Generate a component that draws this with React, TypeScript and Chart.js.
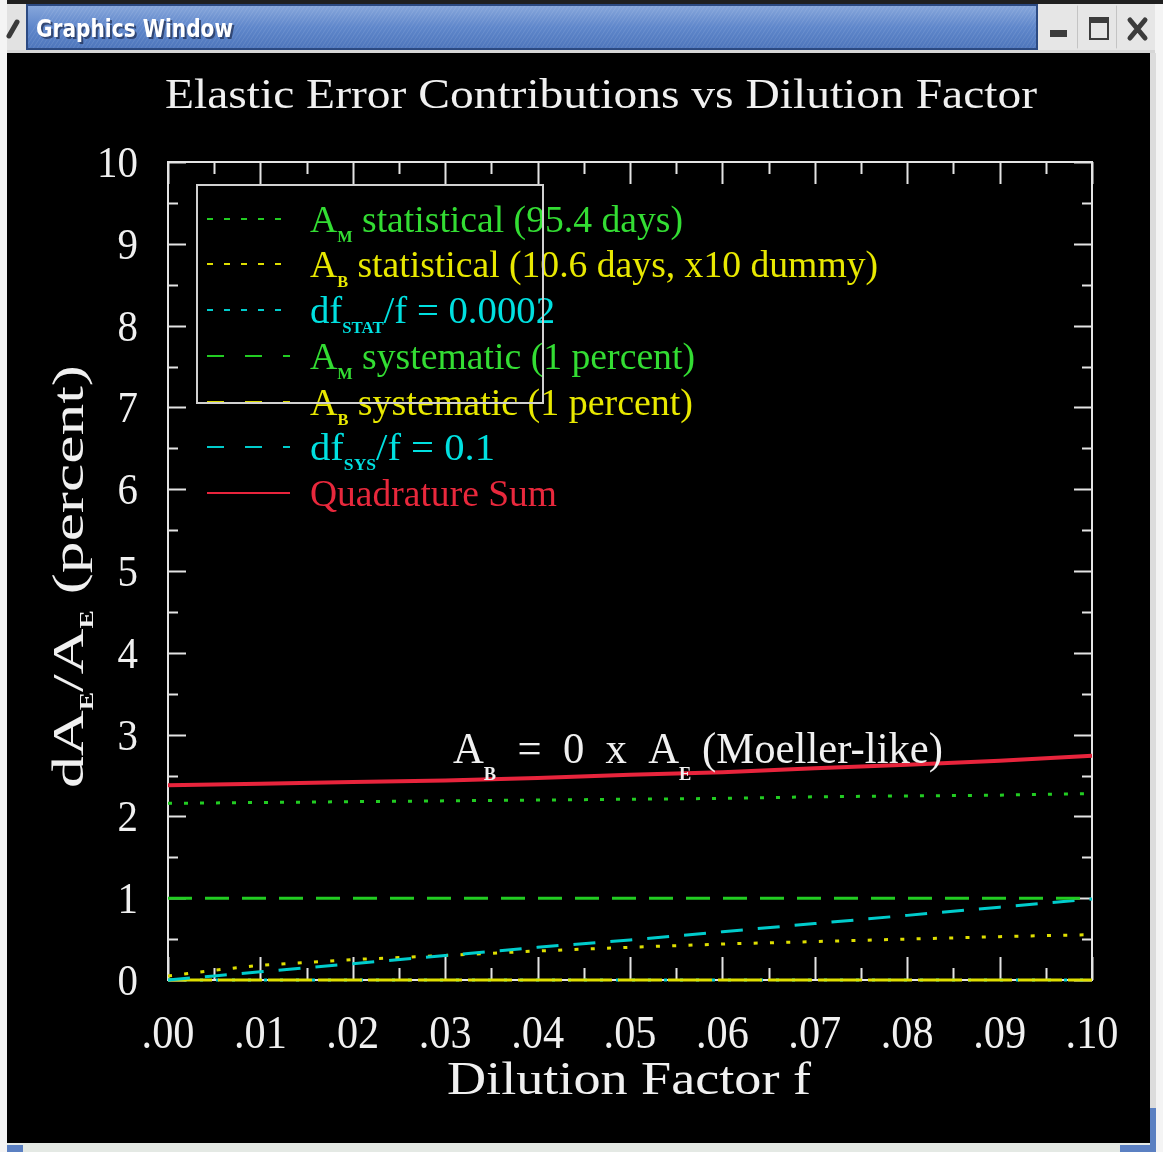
import React, { useEffect, useRef } from "react";
import { Chart, registerables } from "chart.js";

Chart.register(...registerables);

const W = 1163;
const H = 1152;

// ---- data ----
const dilution = [0, 0.005, 0.01, 0.02, 0.03, 0.04, 0.05, 0.06, 0.07, 0.08, 0.09, 0.1];
const amStatistical = [2.16, 2.165, 2.17, 2.18, 2.19, 2.2, 2.21, 2.22, 2.24, 2.25, 2.26, 2.28];
const abStatistical = [0.05, 0.12, 0.18, 0.25, 0.3, 0.355, 0.4, 0.44, 0.47, 0.5, 0.53, 0.555];
const dfStatistical = [0, 0, 0, 0, 0, 0, 0, 0, 0, 0, 0, 0];
const amSystematic = [1, 1, 1, 1, 1, 1, 1, 1, 1, 1, 1, 1];
const abSystematic = [0, 0, 0, 0, 0, 0, 0, 0, 0, 0, 0, 0];
const dfSystematic = [0, 0.05, 0.1, 0.2, 0.3, 0.4, 0.49, 0.59, 0.69, 0.79, 0.89, 0.99];
const quadratureSum = [2.38, 2.39, 2.4, 2.42, 2.44, 2.47, 2.51, 2.54, 2.59, 2.63, 2.68, 2.74];

const xTickValues = [0, 0.01, 0.02, 0.03, 0.04, 0.05, 0.06, 0.07, 0.08, 0.09, 0.1];
const xTickLabels = [".00", ".01", ".02", ".03", ".04", ".05", ".06", ".07", ".08", ".09", ".10"];
const yTickValues = [0, 1, 2, 3, 4, 5, 6, 7, 8, 9, 10];
const yTickLabels = ["0", "1", "2", "3", "4", "5", "6", "7", "8", "9", "10"];

const chartTitle = "Elastic Error Contributions vs Dilution Factor";
const xAxisTitle = "Dilution Factor f";
const windowTitle = "Graphics Window";

// legend text: [main, subscript, rest]
const legendMain = ["A", "A", "df", "A", "A", "df", "Quadrature Sum"];
const legendSub = ["M", "B", "STAT", "M", "B", "SYS", ""];
const legendRest = [
  " statistical (95.4 days)",
  " statistical (10.6 days, x10 dummy)",
  "/f = 0.0002",
  " systematic (1 percent)",
  " systematic (1 percent)",
  "/f = 0.1",
  "",
];

// ---- styles ----
const GREEN = "#22cc22";
const YELLOW = "#dede00";
const CYAN = "#00cccc";
const RED = "#e8243c";
const GREEN_T = "#33dd33";
const YELLOW_T = "#e8e800";
const CYAN_T = "#00e0e0";
const RED_T = "#e8283c";
const WHITE = "#f0f0f0";
const SERIF = '"Liberation Serif", "DejaVu Serif", serif';

const legendColors = [GREEN, YELLOW, CYAN, GREEN, YELLOW, CYAN, RED];
const legendTextColors = [GREEN_T, YELLOW_T, CYAN_T, GREEN_T, YELLOW_T, CYAN_T, RED_T];
const legendDash = [[6, 11], [6, 11], [6, 11], [17, 21], [17, 21], [17, 21], []];
const legendEnds = [683, 878, 555, 695, 693, 495, 557];
const legendBaselines = [232, 277, 323, 369, 415, 460, 506];

type Seg = { t: string; font: string; dy: number };

function fitSegs(ctx: CanvasRenderingContext2D, segs: Seg[], x: number, y: number, width: number) {
  let total = 0;
  const ws: number[] = [];
  for (const s of segs) {
    ctx.font = s.font;
    const w = ctx.measureText(s.t).width;
    ws.push(w);
    total += w;
  }
  const sc = width / total;
  ctx.save();
  ctx.translate(x, y);
  ctx.scale(sc, 1);
  let cx = 0;
  segs.forEach((s, i) => {
    ctx.font = s.font;
    ctx.fillText(s.t, cx, s.dy);
    cx += ws[i];
  });
  ctx.restore();
}

function drawChrome(ctx: CanvasRenderingContext2D) {
  ctx.save();
  ctx.fillStyle = "#f4f4f4";
  ctx.fillRect(0, 0, W, H);
  // top dark line
  ctx.fillStyle = "#202020";
  ctx.fillRect(7, 0, W - 7, 4);
  // left menu button
  ctx.fillStyle = "#e2e2e2";
  ctx.fillRect(7, 4, 19, 46);
  ctx.strokeStyle = "#3a3a3a";
  ctx.lineWidth = 5;
  ctx.lineCap = "round";
  ctx.beginPath();
  ctx.moveTo(9, 36);
  ctx.lineTo(17, 22);
  ctx.stroke();
  // blue title bar
  const g = ctx.createLinearGradient(0, 4, 0, 50);
  g.addColorStop(0, "#8aa9dc");
  g.addColorStop(0.5, "#5f87cb");
  g.addColorStop(1, "#4d75bb");
  ctx.fillStyle = g;
  ctx.fillRect(26, 4, 1012, 46);
  ctx.save();
  ctx.beginPath();
  ctx.rect(26, 4, 1012, 46);
  ctx.clip();
  ctx.strokeStyle = "rgba(255,255,255,0.10)";
  ctx.lineWidth = 1;
  for (let x = 20; x < 1100; x += 4) {
    ctx.beginPath();
    ctx.moveTo(x, 50);
    ctx.lineTo(x + 30, 4);
    ctx.stroke();
  }
  ctx.restore();
  ctx.strokeStyle = "#2c4a82";
  ctx.lineWidth = 2;
  ctx.strokeRect(27, 5, 1010, 44);
  // title text
  ctx.fillStyle = "rgba(20,30,60,0.6)";
  ctx.textBaseline = "alphabetic";
  fitSegs(ctx, [{ t: windowTitle, font: 'bold 25px "DejaVu Sans", sans-serif', dy: 0 }], 38, 39, 197);
  ctx.fillStyle = "#ffffff";
  fitSegs(ctx, [{ t: windowTitle, font: 'bold 25px "DejaVu Sans", sans-serif', dy: 0 }], 36, 37, 197);
  // buttons
  ctx.fillStyle = "#e6e6e6";
  ctx.fillRect(1038, 4, 117, 46);
  ctx.strokeStyle = "#c4c4c4";
  ctx.lineWidth = 1;
  [1077, 1116].forEach((x) => {
    ctx.beginPath();
    ctx.moveTo(x + 0.5, 6);
    ctx.lineTo(x + 0.5, 48);
    ctx.stroke();
  });
  ctx.fillStyle = "#3c3c3c";
  ctx.fillRect(1050, 30, 17, 7);
  ctx.strokeStyle = "#3c3c3c";
  ctx.lineWidth = 2;
  ctx.strokeRect(1090, 18, 18, 21);
  ctx.fillRect(1089, 17, 20, 6);
  ctx.lineWidth = 5;
  ctx.lineCap = "round";
  ctx.beginPath();
  ctx.moveTo(1130, 20);
  ctx.lineTo(1145, 38);
  ctx.moveTo(1145, 20);
  ctx.lineTo(1130, 38);
  ctx.stroke();
  // below title bar
  ctx.fillStyle = "#d6d6d6";
  ctx.fillRect(7, 50, 1148, 3);
  // right edge
  ctx.fillStyle = "#dcdcdc";
  ctx.fillRect(1150, 53, 6, 1099);
  // bottom strip
  ctx.fillStyle = "#e4e9e4";
  ctx.fillRect(7, 1143, 1149, 9);
  ctx.fillStyle = "#5b80c2";
  ctx.fillRect(7, 1145, 16, 7);
  ctx.fillRect(1120, 1145, 36, 7);
  ctx.fillRect(1150, 1108, 6, 44);
  // black drawing area
  ctx.fillStyle = "#000000";
  ctx.fillRect(7, 53, 1143, 1090);
  ctx.restore();
}

const framePlugin = {
  id: "frame",
  beforeDraw(chart: any) {
    drawChrome(chart.ctx);
  },
  beforeDatasetsDraw(chart: any) {
    const ctx: CanvasRenderingContext2D = chart.ctx;
    const { left, right, top, bottom } = chart.chartArea;
    const xs = chart.scales.x;
    const ys = chart.scales.y;
    ctx.save();
    ctx.strokeStyle = "#e4e4e4";
    ctx.lineWidth = 2;
    ctx.strokeRect(left, top, right - left, bottom - top);
    ctx.beginPath();
    // x ticks (major + minor) top and bottom
    xTickValues.forEach((v, i) => {
      const px = Math.round(xs.getPixelForValue(v)) + 0.5;
      ctx.moveTo(px, bottom);
      ctx.lineTo(px, bottom - 23);
      ctx.moveTo(px, top);
      ctx.lineTo(px, top + 22);
      if (i < xTickValues.length - 1) {
        const m = Math.round(xs.getPixelForValue((v + xTickValues[i + 1]) / 2)) + 0.5;
        ctx.moveTo(m, bottom);
        ctx.lineTo(m, bottom - 12);
        ctx.moveTo(m, top);
        ctx.lineTo(m, top + 12);
      }
    });
    yTickValues.forEach((v, i) => {
      const py = Math.round(ys.getPixelForValue(v)) + 0.5;
      ctx.moveTo(left, py);
      ctx.lineTo(left + 18, py);
      ctx.moveTo(right, py);
      ctx.lineTo(right - 18, py);
      if (i < yTickValues.length - 1) {
        const m = Math.round(ys.getPixelForValue((v + yTickValues[i + 1]) / 2)) + 0.5;
        ctx.moveTo(left, m);
        ctx.lineTo(left + 10, m);
        ctx.moveTo(right, m);
        ctx.lineTo(right - 10, m);
      }
    });
    ctx.stroke();
    ctx.restore();
  },
  afterDatasetsDraw(chart: any) {
    const ctx: CanvasRenderingContext2D = chart.ctx;
    const xs = chart.scales.x;
    const ys = chart.scales.y;
    ctx.save();
    ctx.textBaseline = "alphabetic";
    ctx.fillStyle = WHITE;

    // title
    fitSegs(ctx, [{ t: chartTitle, font: `42px ${SERIF}`, dy: 0 }], 165, 108, 872);

    // y tick labels
    ctx.fillStyle = WHITE;
    yTickValues.forEach((v, i) => {
      const py = ys.getPixelForValue(v);
      ctx.font = `44px ${SERIF}`;
      const w = ctx.measureText(yTickLabels[i]).width * 0.93;
      fitSegs(ctx, [{ t: yTickLabels[i], font: `44px ${SERIF}`, dy: 0 }], 138 - w, py + 15, w);
    });

    // x tick labels
    xTickValues.forEach((v, i) => {
      const px = xs.getPixelForValue(v);
      ctx.font = `47px ${SERIF}`;
      const w = ctx.measureText(xTickLabels[i]).width * 0.9;
      fitSegs(ctx, [{ t: xTickLabels[i], font: `47px ${SERIF}`, dy: 0 }], px - w / 2, 1048, w);
    });

    // x axis title
    fitSegs(ctx, [{ t: xAxisTitle, font: `46px ${SERIF}`, dy: 0 }], 447, 1094, 364);

    // y axis title (rotated)
    ctx.save();
    ctx.translate(83, 788);
    ctx.rotate(-Math.PI / 2);
    fitSegs(
      ctx,
      [
        { t: "dA", font: `44px ${SERIF}`, dy: 0 },
        { t: "E", font: `bold 19px ${SERIF}`, dy: 10 },
        { t: "/A", font: `44px ${SERIF}`, dy: 0 },
        { t: "E", font: `bold 19px ${SERIF}`, dy: 10 },
        { t: " (percent)", font: `44px ${SERIF}`, dy: 0 },
      ],
      0,
      0,
      423
    );
    ctx.restore();

    // annotation
    ctx.fillStyle = WHITE;
    fitSegs(
      ctx,
      [
        { t: "A", font: `44px ${SERIF}`, dy: 0 },
        { t: "B", font: `bold 19px ${SERIF}`, dy: 17 },
        { t: "  =  0  x  ", font: `44px ${SERIF}`, dy: 0 },
        { t: "A", font: `44px ${SERIF}`, dy: 0 },
        { t: "E", font: `bold 19px ${SERIF}`, dy: 17 },
        { t: " (Moeller-like)", font: `44px ${SERIF}`, dy: 0 },
      ],
      453,
      763,
      490
    );

    // legend
    legendMain.forEach((m, i) => {
      const base = legendBaselines[i];
      const ly = base - 13;
      ctx.save();
      ctx.strokeStyle = legendColors[i];
      ctx.lineWidth = 2;
      ctx.setLineDash(legendDash[i]);
      ctx.beginPath();
      ctx.moveTo(207, ly);
      ctx.lineTo(i < 3 ? 282 : 290, ly);
      ctx.stroke();
      ctx.restore();
      ctx.fillStyle = legendTextColors[i];
      const segs: Seg[] = [{ t: m, font: `37px ${SERIF}`, dy: 0 }];
      if (legendSub[i]) segs.push({ t: legendSub[i], font: `bold 16px ${SERIF}`, dy: 10 });
      if (legendRest[i]) segs.push({ t: legendRest[i], font: `37px ${SERIF}`, dy: 0 });
      fitSegs(ctx, segs, 310, base, legendEnds[i] - 310);
    });

    // legend frame
    ctx.strokeStyle = "#d0d0d0";
    ctx.lineWidth = 2;
    ctx.setLineDash([]);
    ctx.strokeRect(197, 185, 346, 218);
    ctx.restore();
  },
};

function series(values: number[]) {
  return values.map((v, i) => ({ x: dilution[i], y: v }));
}

export default function App() {
  const ref = useRef<HTMLCanvasElement | null>(null);
  useEffect(() => {
    document.body.style.margin = "0";
    document.body.style.background = "#f4f4f4";
    const canvas = ref.current!;
    const chart = new Chart(canvas, {
      type: "line",
      data: {
        datasets: [
          { label: "Quadrature Sum", data: series(quadratureSum), borderColor: RED, borderWidth: 4 },
          { label: "A_M statistical", data: series(amStatistical), borderColor: GREEN, borderWidth: 3, borderDash: [4, 12] },
          { label: "A_M systematic", data: series(amSystematic), borderColor: GREEN, borderWidth: 3, borderDash: [24, 13] },
          { label: "df_SYS/f", data: series(dfSystematic), borderColor: CYAN, borderWidth: 3, borderDash: [22, 15] },
          { label: "A_B statistical", data: series(abStatistical), borderColor: YELLOW, borderWidth: 3, borderDash: [4, 12.3] },
          { label: "A_B systematic", data: series(abSystematic), borderColor: YELLOW, borderWidth: 3, borderDash: [44, 6] },
          { label: "df_STAT/f", data: series(dfStatistical), borderColor: CYAN, borderWidth: 3, borderDash: [3, 13] },
        ],
      },
      options: {
        animation: false,
        responsive: false,
        devicePixelRatio: 1,
        layout: { padding: { left: 168, top: 162, right: W - 1092, bottom: H - 980 } },
        plugins: { legend: { display: false }, tooltip: { enabled: false } },
        elements: { point: { radius: 0 }, line: { tension: 0, fill: false } },
        datasets: { line: { clip: 4 } } as any,
        scales: {
          x: { type: "linear", min: 0, max: 0.1, display: false },
          y: { type: "linear", min: 0, max: 10, display: false },
        },
      },
      plugins: [framePlugin],
    });
    return () => chart.destroy();
  }, []);
  return (
    <div style={{ width: W, height: H }}>
      <canvas ref={ref} width={W} height={H} style={{ display: "block", width: W, height: H }} />
    </div>
  );
}
